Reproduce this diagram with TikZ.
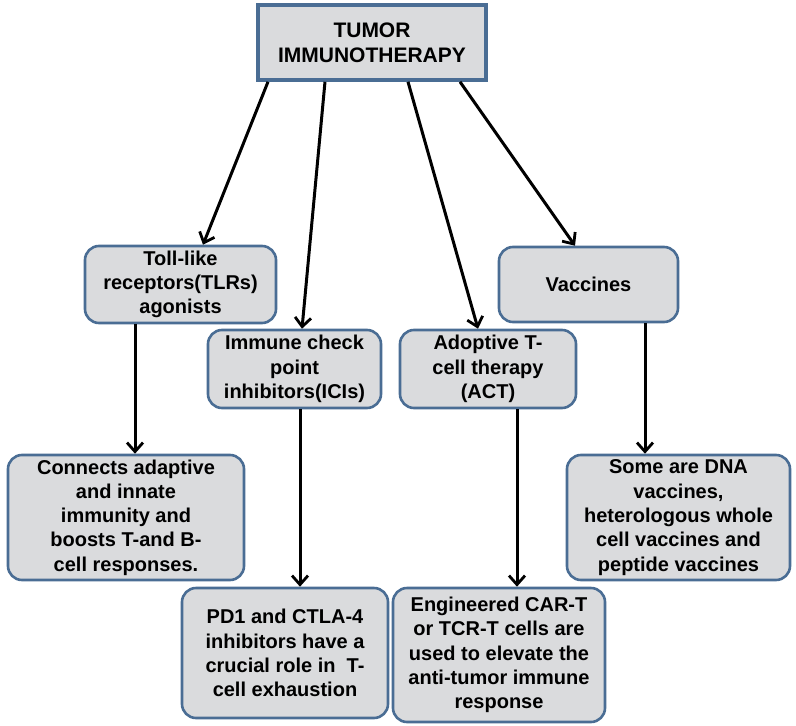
\documentclass[tikz,border=0pt]{standalone}
\usepackage{fontspec}
\setmainfont{Liberation Sans}
\usetikzlibrary{arrows.meta,calc}
\definecolor{boxfill}{HTML}{DADBDD}
\definecolor{boxline}{HTML}{4A6D94}
\tikzset{
  base/.style={draw=boxline, fill=boxfill, align=center, inner sep=2pt,
    font=\bfseries\fontsize{20}{24.3}\selectfont},
  rbox/.style={base, line width=2.6pt, rounded corners=14pt},
  headbox/.style={base, line width=3.6pt, font=\bfseries\fontsize{21}{25}\selectfont},
  link/.style={line width=3pt, -{Straight Barb[length=9pt,width=16pt,line width=2.8pt]}}
}
\begin{document}
\begin{tikzpicture}[x=1pt,y=-1pt]
  \useasboundingbox (0,0) rectangle (796,726);

  % top category
  \node[headbox, minimum width=228pt, minimum height=75pt] (top) at (372,42.5)
    {TUMOR\\IMMUNOTHERAPY};

  % four therapy classes
  \node[rbox, minimum width=191pt, minimum height=77pt] (tlr) at (180.5,284.5)
    {Toll-like\\receptors(TLRs)\\agonists};
  \node[rbox, minimum width=173pt, minimum height=78pt] (ici) at (294.5,369)
    {Immune check\\point\\inhibitors(ICIs)};
  \node[rbox, minimum width=176pt, minimum height=78pt] (act) at (488,369)
    {Adoptive T-\\cell therapy\\(ACT)};
  \node[rbox, minimum width=179pt, minimum height=75pt] (vac) at (588.5,284.5)
    {Vaccines};

  % descriptions
  \node[rbox, minimum width=236pt, minimum height=125pt] (conn) at (126,517.5)
    {Connects adaptive\\and innate\\immunity and\\boosts T-and B-\\cell responses.};
  \node[rbox, minimum width=206pt, minimum height=130pt] (pd1) at (285,653)
    {PD1 and CTLA-4\\inhibitors have a\\crucial role in \ T-\\cell exhaustion};
  \node[rbox, minimum width=212pt, minimum height=134pt] (eng) at (499,655)
    {Engineered CAR-T\\or TCR-T cells are\\used to elevate the\\anti-tumor immune\\response};
  \node[rbox, minimum width=223pt, minimum height=125pt] (dna) at (678.5,517.5)
    {Some are DNA\\vaccines,\\heterologous whole\\cell vaccines and\\peptide vaccines};

  % branches from the top box
  \draw[link] ([xshift=-104pt]top.south) -- ([xshift=22.5pt]tlr.north);
  \draw[link] ([xshift=-47pt]top.south) -- ([xshift=7.5pt]ici.north);
  \draw[link] ([xshift=36pt]top.south) -- ([xshift=-10pt]act.north);
  \draw[link] ([xshift=88pt]top.south) -- ([xshift=-13.5pt]vac.north);

  % each class to its description
  \draw[link] ([xshift=-45.5pt]tlr.south) -- ([xshift=-45.5pt]tlr.south |- conn.north);
  \draw[link] ([xshift=5.5pt]ici.south) -- ([xshift=5.5pt]ici.south |- pd1.north);
  \draw[link] ([xshift=29pt]act.south) -- ([xshift=29pt]act.south |- eng.north);
  \draw[link] ([xshift=56.5pt]vac.south) -- ([xshift=56.5pt]vac.south |- dna.north);
\end{tikzpicture}
\end{document}
